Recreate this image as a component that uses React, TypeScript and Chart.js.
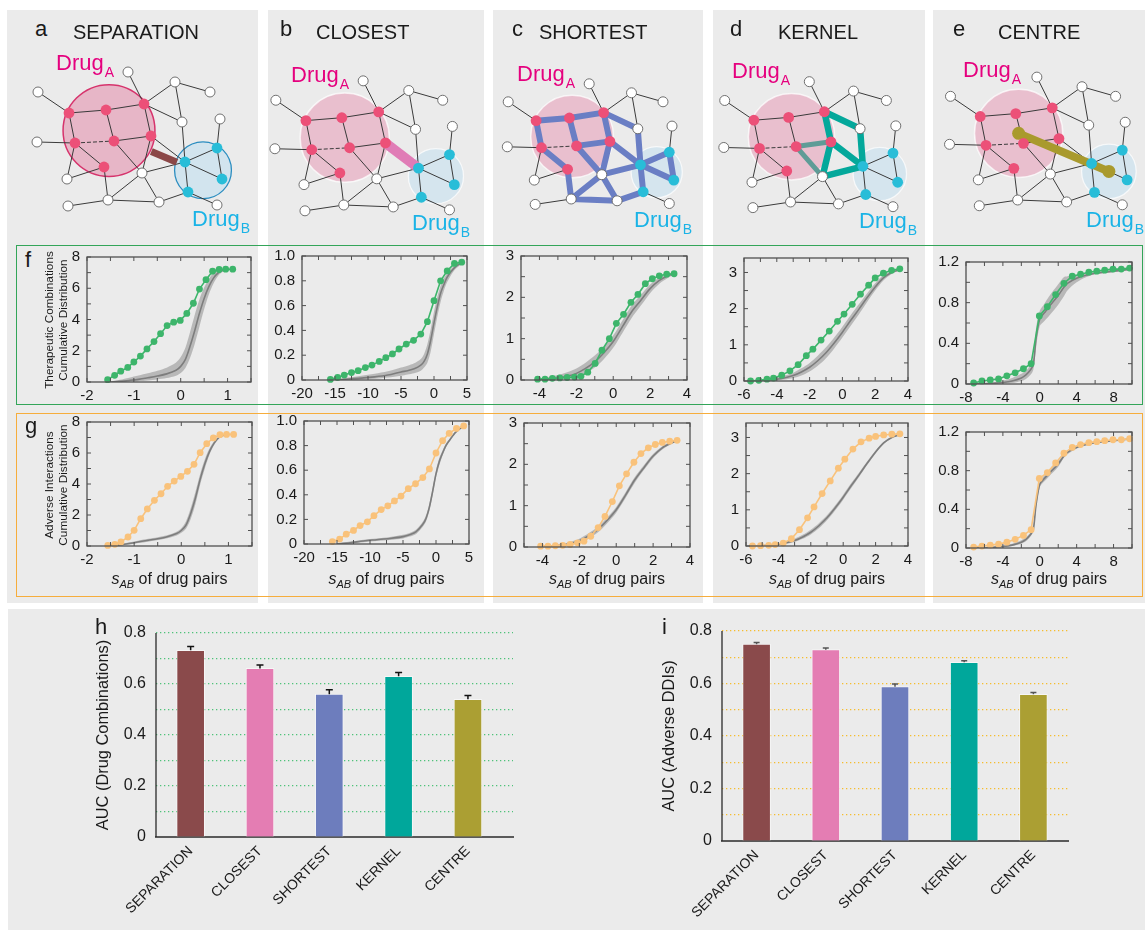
import React, { useEffect, useRef } from 'react';
import { Chart, registerables } from 'chart.js';

Chart.register(...registerables);

const FONT = '"Liberation Sans", Arial, Helvetica, sans-serif';
const GRAY = '#ebebeb';

// ---------------- categories ----------------
const METHODS = ['SEPARATION', 'CLOSEST', 'SHORTEST', 'KERNEL', 'CENTRE'];
const PANEL_LETTERS = ['a', 'b', 'c', 'd', 'e'];

// ---------------- toy interactome (shared by panels a-e) ----------------
const NODE_X = [38, 128, 175, 210, 182, 220, 37, 142, 67, 68, 108, 159, 217, 69, 106, 144, 75, 114, 151, 104, 185, 217, 222, 188];
const NODE_Y = [92, 72, 82, 92, 122, 119, 142, 173, 179, 206, 200, 202, 205, 113, 110, 104, 143, 141, 136, 167, 162, 148, 179, 192];
const NODE_GROUP = ['o', 'o', 'o', 'o', 'o', 'o', 'o', 'o', 'o', 'o', 'o', 'o', 'o', 'A', 'A', 'A', 'A', 'A', 'A', 'A', 'B', 'B', 'B', 'B'];
const EDGES = [[0, 13], [13, 14], [14, 15], [13, 16], [14, 17], [15, 18], [17, 18], [16, 19], [6, 16], [16, 8], [19, 8], [19, 10], [17, 7], [18, 7], [15, 1], [15, 2], [2, 3], [2, 4], [15, 4], [4, 20], [18, 20], [7, 20], [7, 10], [7, 11], [10, 11], [9, 10], [11, 23], [20, 21], [20, 22], [21, 22], [20, 23], [21, 5], [23, 12]];
const DASHED_EDGES = [[16, 17]];
const CLOSEST_PATH = [[18, 20]];
const SHORTEST_PATHS = [[13, 14], [14, 15], [13, 16], [14, 17], [15, 18], [17, 18], [16, 19], [19, 10], [17, 7], [18, 7], [15, 4], [4, 20], [18, 20], [7, 20], [7, 10], [7, 11], [10, 11], [11, 23], [20, 21], [20, 22], [21, 22], [20, 23]];
const KERNEL_PATHS = [[15, 4], [4, 20], [15, 18], [18, 7], [18, 20], [7, 20]];
const KERNEL_WEAK_PATHS = [[17, 18], [17, 7]];

// ---------------- cumulative distributions (rows f and g) ----------------
const SEPARATION_X = [-1.56, -1.41, -1.28, -1.13, -1.0, -0.86, -0.72, -0.57, -0.43, -0.29, -0.15, -0.01, 0.13, 0.27, 0.4, 0.54, 0.68, 0.82, 0.96, 1.11];
const SEPARATION_COMB = [0.15, 0.43, 0.69, 0.93, 1.28, 1.66, 2.12, 2.59, 3.09, 3.61, 3.83, 3.94, 4.39, 5.04, 5.95, 6.55, 7.09, 7.2, 7.22, 7.22];
const SEPARATION_ADV = [0.04, 0.11, 0.26, 0.58, 1.01, 1.76, 2.39, 2.95, 3.37, 3.85, 4.19, 4.49, 4.82, 5.27, 6.02, 6.6, 6.97, 7.18, 7.2, 7.2];

const CLOSEST_X = [-15.7, -14.6, -13.6, -12.5, -11.5, -10.4, -9.4, -8.3, -7.3, -6.3, -5.3, -4.2, -3.1, -2.0, -1.0, 0.0, 1.0, 2.0, 3.1, 4.2];
const CLOSEST_COMB = [0.005, 0.02, 0.04, 0.06, 0.075, 0.1, 0.12, 0.15, 0.18, 0.21, 0.25, 0.29, 0.32, 0.37, 0.47, 0.64, 0.8, 0.88, 0.94, 0.95];
const CLOSEST_ADV = [0.02, 0.04, 0.08, 0.11, 0.15, 0.18, 0.23, 0.28, 0.31, 0.35, 0.39, 0.45, 0.49, 0.54, 0.61, 0.74, 0.84, 0.9, 0.94, 0.96];

const SHORTEST_X = [-4.1, -3.7, -3.3, -2.9, -2.5, -2.1, -1.75, -1.38, -0.98, -0.61, -0.21, 0.17, 0.56, 0.96, 1.34, 1.74, 2.12, 2.5, 2.9, 3.3];
const SHORTEST_COMB = [0.02, 0.02, 0.04, 0.05, 0.06, 0.07, 0.09, 0.19, 0.4, 0.72, 1.0, 1.37, 1.59, 1.88, 2.07, 2.33, 2.45, 2.52, 2.56, 2.57];
const SHORTEST_ADV = [0.02, 0.02, 0.03, 0.04, 0.06, 0.1, 0.14, 0.26, 0.47, 0.74, 1.1, 1.48, 1.77, 2.05, 2.26, 2.4, 2.48, 2.53, 2.56, 2.58];

const KERNEL_X = [-5.6, -5.1, -4.6, -4.2, -3.7, -3.2, -2.7, -2.2, -1.8, -1.3, -0.8, -0.3, 0.1, 0.6, 1.1, 1.6, 2.0, 2.5, 3.0, 3.5];
const KERNEL_COMB = [0, 0.02, 0.05, 0.08, 0.16, 0.28, 0.45, 0.7, 0.88, 1.13, 1.38, 1.65, 1.85, 2.12, 2.4, 2.65, 2.85, 2.98, 3.06, 3.1];
const KERNEL_ADV = [0, 0.01, 0.02, 0.04, 0.08, 0.2, 0.45, 0.78, 1.08, 1.45, 1.8, 2.15, 2.4, 2.68, 2.88, 2.98, 3.03, 3.07, 3.09, 3.1];

const CENTRE_X = [-7.17, -6.27, -5.37, -4.47, -3.57, -2.67, -1.77, -0.94, -0.05, 0.82, 1.72, 2.62, 3.52, 4.42, 5.32, 6.18, 7.04, 7.94, 8.84, 9.74];
const CENTRE_COMB = [0.01, 0.03, 0.04, 0.05, 0.08, 0.11, 0.15, 0.2, 0.67, 0.76, 0.88, 0.99, 1.06, 1.08, 1.1, 1.11, 1.12, 1.13, 1.13, 1.14];
const CENTRE_ADV = [0.01, 0.02, 0.03, 0.04, 0.06, 0.09, 0.13, 0.19, 0.72, 0.78, 0.88, 0.98, 1.04, 1.07, 1.09, 1.1, 1.11, 1.12, 1.12, 1.13];

// random-expectation (null model) curves: mean and band
const SEPARATION_NULL_X = [-1.5, -1.3, -1.1, -0.9, -0.7, -0.5, -0.3, -0.1, 0, 0.1, 0.2, 0.3, 0.4, 0.5, 0.6, 0.7, 0.8, 0.9, 1.0];
const SEPARATION_COMB_NULL = [0, 0.04, 0.1, 0.17, 0.27, 0.38, 0.52, 0.75, 1.0, 1.45, 2.3, 3.3, 4.4, 5.35, 6.1, 6.65, 6.98, 7.15, 7.22];
const SEPARATION_COMB_HI = [0.03, 0.14, 0.28, 0.42, 0.56, 0.72, 0.92, 1.25, 1.6, 2.2, 3.2, 4.3, 5.3, 6.05, 6.6, 6.98, 7.15, 7.22, 7.22];
const SEPARATION_COMB_LO = [0, 0, 0.02, 0.05, 0.1, 0.16, 0.25, 0.4, 0.58, 0.9, 1.55, 2.45, 3.55, 4.65, 5.6, 6.3, 6.8, 7.07, 7.2];
const SEPARATION_ADV_NULL = [0, 0.06, 0.16, 0.27, 0.37, 0.47, 0.6, 0.8, 1.0, 1.35, 2.1, 3.1, 4.3, 5.3, 6.1, 6.65, 7.0, 7.15, 7.2];
const SEPARATION_ADV_HI = [0.03, 0.12, 0.24, 0.36, 0.47, 0.57, 0.7, 0.92, 1.15, 1.6, 2.45, 3.5, 4.65, 5.6, 6.3, 6.77, 7.06, 7.18, 7.21];
const SEPARATION_ADV_LO = [0, 0.02, 0.09, 0.19, 0.28, 0.38, 0.5, 0.68, 0.86, 1.12, 1.75, 2.7, 3.95, 5.0, 5.9, 6.53, 6.94, 7.12, 7.19];

const CLOSEST_NULL_X = [-15, -13, -11, -9, -7, -5, -4, -3, -2, -1.5, -1, -0.5, 0, 0.5, 1, 1.5, 2, 3, 4, 4.5];
const CLOSEST_COMB_NULL = [0, 0.008, 0.015, 0.025, 0.04, 0.065, 0.075, 0.09, 0.12, 0.15, 0.21, 0.32, 0.46, 0.59, 0.7, 0.77, 0.83, 0.9, 0.94, 0.95];
const CLOSEST_COMB_HI = [0.005, 0.02, 0.035, 0.05, 0.07, 0.1, 0.115, 0.135, 0.17, 0.21, 0.29, 0.41, 0.55, 0.67, 0.76, 0.82, 0.86, 0.92, 0.95, 0.96];
const CLOSEST_COMB_LO = [0, 0.002, 0.005, 0.01, 0.02, 0.035, 0.045, 0.055, 0.075, 0.1, 0.14, 0.23, 0.37, 0.51, 0.63, 0.72, 0.79, 0.88, 0.93, 0.95];
const CLOSEST_ADV_NULL = [0, 0.01, 0.025, 0.035, 0.045, 0.06, 0.075, 0.1, 0.16, 0.21, 0.3, 0.43, 0.57, 0.67, 0.74, 0.8, 0.84, 0.91, 0.95, 0.96];
const CLOSEST_ADV_HI = [0.005, 0.02, 0.035, 0.045, 0.057, 0.075, 0.09, 0.118, 0.18, 0.235, 0.33, 0.46, 0.6, 0.7, 0.76, 0.815, 0.85, 0.915, 0.953, 0.962];
const CLOSEST_ADV_LO = [0, 0.003, 0.015, 0.025, 0.033, 0.045, 0.06, 0.082, 0.14, 0.185, 0.27, 0.4, 0.54, 0.64, 0.72, 0.785, 0.83, 0.905, 0.947, 0.958];

const SHORTEST_NULL_X = [-4, -3.5, -3, -2.5, -2, -1.5, -1, -0.5, 0, 0.5, 1, 1.5, 2, 2.5, 3, 3.3];
const SHORTEST_COMB_NULL = [0.01, 0.03, 0.05, 0.09, 0.16, 0.28, 0.44, 0.66, 0.93, 1.29, 1.65, 1.93, 2.21, 2.41, 2.53, 2.57];
const SHORTEST_COMB_HI = [0.03, 0.07, 0.12, 0.19, 0.28, 0.42, 0.59, 0.81, 1.08, 1.44, 1.8, 2.06, 2.31, 2.48, 2.57, 2.59];
const SHORTEST_COMB_LO = [0, 0.005, 0.01, 0.03, 0.07, 0.16, 0.3, 0.51, 0.78, 1.14, 1.5, 1.8, 2.1, 2.33, 2.48, 2.55];
const SHORTEST_ADV_NULL = [0.01, 0.02, 0.04, 0.08, 0.15, 0.27, 0.42, 0.64, 0.9, 1.25, 1.62, 1.92, 2.2, 2.4, 2.52, 2.57];
const SHORTEST_ADV_HI = [0.02, 0.04, 0.07, 0.12, 0.2, 0.33, 0.49, 0.71, 0.97, 1.32, 1.69, 1.98, 2.25, 2.44, 2.55, 2.58];
const SHORTEST_ADV_LO = [0, 0.01, 0.02, 0.05, 0.1, 0.21, 0.35, 0.57, 0.83, 1.18, 1.55, 1.86, 2.15, 2.36, 2.49, 2.56];

const KERNEL_NULL_X = [-5.5, -5, -4.5, -4, -3.5, -3, -2.5, -2, -1.5, -1, -0.5, 0, 0.5, 1, 1.5, 2, 2.5, 3, 3.5];
const KERNEL_COMB_NULL = [0, 0.01, 0.02, 0.05, 0.09, 0.15, 0.25, 0.38, 0.56, 0.78, 1.05, 1.35, 1.67, 1.98, 2.3, 2.6, 2.85, 3.0, 3.08];
const KERNEL_COMB_HI = [0.01, 0.03, 0.05, 0.09, 0.15, 0.23, 0.35, 0.5, 0.7, 0.93, 1.2, 1.5, 1.82, 2.12, 2.42, 2.7, 2.92, 3.04, 3.1];
const KERNEL_COMB_LO = [0, 0, 0.005, 0.02, 0.04, 0.08, 0.15, 0.26, 0.42, 0.63, 0.9, 1.2, 1.52, 1.84, 2.18, 2.5, 2.78, 2.96, 3.06];
const KERNEL_ADV_NULL = [0, 0.01, 0.02, 0.05, 0.09, 0.15, 0.25, 0.38, 0.56, 0.78, 1.05, 1.35, 1.67, 1.98, 2.3, 2.6, 2.85, 3.0, 3.08];
const KERNEL_ADV_HI = [0.01, 0.02, 0.04, 0.08, 0.13, 0.2, 0.31, 0.45, 0.63, 0.85, 1.12, 1.42, 1.74, 2.04, 2.35, 2.64, 2.88, 3.02, 3.09];
const KERNEL_ADV_LO = [0, 0, 0.01, 0.03, 0.06, 0.11, 0.2, 0.32, 0.49, 0.71, 0.98, 1.28, 1.6, 1.92, 2.25, 2.56, 2.82, 2.98, 3.07];

const CENTRE_NULL_X = [-7.5, -6, -5, -4, -3, -2, -1.5, -1, -0.7, -0.4, 0, 0.5, 1, 2, 2.6, 3, 4, 5, 6, 7, 8, 9, 10];
const CENTRE_COMB_NULL = [0, 0.003, 0.008, 0.015, 0.03, 0.06, 0.09, 0.14, 0.19, 0.45, 0.64, 0.7, 0.76, 0.87, 0.95, 0.99, 1.04, 1.07, 1.09, 1.1, 1.11, 1.12, 1.13];
const CENTRE_COMB_HI = [0.005, 0.01, 0.02, 0.035, 0.06, 0.1, 0.13, 0.19, 0.25, 0.55, 0.72, 0.79, 0.86, 0.98, 1.05, 1.06, 1.07, 1.085, 1.1, 1.11, 1.12, 1.125, 1.135];
const CENTRE_COMB_LO = [0, 0, 0, 0.005, 0.01, 0.03, 0.05, 0.09, 0.14, 0.36, 0.57, 0.62, 0.67, 0.78, 0.86, 0.92, 1.0, 1.05, 1.08, 1.09, 1.1, 1.115, 1.125];
const CENTRE_ADV_NULL = [0, 0.003, 0.008, 0.015, 0.03, 0.06, 0.09, 0.14, 0.19, 0.45, 0.66, 0.72, 0.77, 0.87, 0.95, 0.99, 1.04, 1.07, 1.09, 1.1, 1.11, 1.12, 1.13];
const CENTRE_ADV_HI = [0.004, 0.008, 0.015, 0.025, 0.045, 0.08, 0.11, 0.16, 0.21, 0.49, 0.69, 0.75, 0.8, 0.9, 0.97, 1.01, 1.05, 1.08, 1.1, 1.105, 1.115, 1.125, 1.135];
const CENTRE_ADV_LO = [0, 0, 0.003, 0.008, 0.02, 0.045, 0.07, 0.12, 0.17, 0.41, 0.63, 0.69, 0.74, 0.84, 0.93, 0.97, 1.03, 1.06, 1.08, 1.095, 1.105, 1.115, 1.125];

// axis ranges and tick labels of the cumulative plots
const X_MIN = [-2, -20, -5, -6, -8];
const X_MAX = [1.5, 5, 4, 4, 10];
const Y_MAX = [8, 1.0, 3, 3.4, 1.2];
const X_TICKS = [[-2, -1, 0, 1], [-20, -15, -10, -5, 0, 5], [-4, -2, 0, 2, 4], [-6, -4, -2, 0, 2, 4], [-8, -4, 0, 4, 8]];
const Y_TICKS = [[0, 2, 4, 6, 8], [0, 0.2, 0.4, 0.6, 0.8, 1.0], [0, 1, 2, 3], [0, 1, 2, 3], [0, 0.4, 0.8, 1.2]];
const Y_TICK_TEXT = [['0', '2', '4', '6', '8'], ['0', '0.2', '0.4', '0.6', '0.8', '1.0'], ['0', '1', '2', '3'], ['0', '1', '2', '3'], ['0', '0.4', '0.8', '1.2']];
const X_MINOR = [0.5, 2.5, 1, 1, 2];
const Y_MINOR = [1, 0.2, 0.5, 0.5, 0.2];

// ---------------- AUC bars (h and i) ----------------
const AUC_COMB = [0.732, 0.661, 0.56, 0.63, 0.54];
const AUC_COMB_ERR = [0.015, 0.014, 0.017, 0.015, 0.015];
const AUC_ADV = [0.75, 0.729, 0.588, 0.681, 0.559];
const AUC_ADV_ERR = [0.006, 0.006, 0.01, 0.006, 0.007];
const AUC_TICKS = [0, 0.1, 0.2, 0.3, 0.4, 0.5, 0.6, 0.7, 0.8];
const AUC_TICK_TEXT = ['0', '', '0.2', '', '0.4', '', '0.6', '', '0.8'];

// ---------------- bundles ----------------
const SERIES_X = [SEPARATION_X, CLOSEST_X, SHORTEST_X, KERNEL_X, CENTRE_X];
const SERIES_Y = [
  [SEPARATION_COMB, CLOSEST_COMB, SHORTEST_COMB, KERNEL_COMB, CENTRE_COMB],
  [SEPARATION_ADV, CLOSEST_ADV, SHORTEST_ADV, KERNEL_ADV, CENTRE_ADV],
];
const NULL_X = [SEPARATION_NULL_X, CLOSEST_NULL_X, SHORTEST_NULL_X, KERNEL_NULL_X, CENTRE_NULL_X];
const NULL_MEAN = [
  [SEPARATION_COMB_NULL, CLOSEST_COMB_NULL, SHORTEST_COMB_NULL, KERNEL_COMB_NULL, CENTRE_COMB_NULL],
  [SEPARATION_ADV_NULL, CLOSEST_ADV_NULL, SHORTEST_ADV_NULL, KERNEL_ADV_NULL, CENTRE_ADV_NULL],
];
const NULL_HI = [
  [SEPARATION_COMB_HI, CLOSEST_COMB_HI, SHORTEST_COMB_HI, KERNEL_COMB_HI, CENTRE_COMB_HI],
  [SEPARATION_ADV_HI, CLOSEST_ADV_HI, SHORTEST_ADV_HI, KERNEL_ADV_HI, CENTRE_ADV_HI],
];
const NULL_LO = [
  [SEPARATION_COMB_LO, CLOSEST_COMB_LO, SHORTEST_COMB_LO, KERNEL_COMB_LO, CENTRE_COMB_LO],
  [SEPARATION_ADV_LO, CLOSEST_ADV_LO, SHORTEST_ADV_LO, KERNEL_ADV_LO, CENTRE_ADV_LO],
];

// ---------------- layout (page pixels) ----------------
const COLS = [[7, 258], [268, 484], [493, 703], [713, 925], [933, 1145]];
const PLOT_RECTS = [
  [[87, 257, 251, 382], [302, 256, 467, 380], [521, 256, 687, 380], [744, 258, 908, 381], [966, 262, 1132, 384]],
  [[87, 422, 252, 546], [304, 421, 469, 544], [524, 423, 690, 547], [746, 423, 908, 546], [966, 432, 1132, 548]],
];
const NET_TRANSFORMS = [[1, 0, 0], [0.97, 239, 11], [0.9, 474, 19], [0.94, 689, 14], [0.96, 914, 8]];
const TITLE_POS = [[35, 73], [280, 316], [512, 539], [730, 778], [953, 998]];
const DRUG_A_POS = [[56, 71], [291, 83], [517, 82], [732, 79], [963, 78]];
const DRUG_B_POS = [[192, 227], [412, 231], [634, 228], [859, 229], [1086, 228]];
const BAR_COLORS = ['#8a4a4b', '#e47db3', '#6d7dbd', '#00a79b', '#ab9f33'];

const SERIES_COLORS = ['#3db56b', '#f9c27b'];

// ---------------- helpers ----------------
type Pt = { x: number | null; y: number | null };

function segData(pairs: number[][]): Pt[] {
  const out: Pt[] = [];
  pairs.forEach(([p, q]) => {
    out.push({ x: NODE_X[p], y: NODE_Y[p] }, { x: NODE_X[q], y: NODE_Y[q] }, { x: null, y: null });
  });
  return out;
}

function ChartCanvas({ rect, make }: { rect: number[]; make: () => any }) {
  const ref = useRef<HTMLCanvasElement | null>(null);
  useEffect(() => {
    if (!ref.current) return;
    const chart = new Chart(ref.current, make());
    return () => chart.destroy();
  }, []);
  const [l, t, w, h] = rect;
  return (
    <canvas
      ref={ref}
      width={w}
      height={h}
      style={{ position: 'absolute', left: l, top: t, width: w, height: h }}
    />
  );
}

function networkRect(k: number) {
  const [s, tx, ty] = NET_TRANSFORMS[k];
  return [Math.round(tx + 15 * s), Math.round(ty + 50 * s), Math.round(240 * s), Math.round(185 * s)];
}

function networkConfig(k: number) {
  const [s, tx, ty] = NET_TRANSFORMS[k];
  const [cl, ct, cw, ch] = networkRect(k);
  const method = METHODS[k];
  const ids = (g: string) => NODE_GROUP.map((v, i) => (v === g ? i : -1)).filter((i) => i >= 0);
  const idxA = ids('A');
  const idxB = ids('B');
  const idxO = ids('o');
  const avg = (a: number[]) => a.reduce((p, c) => p + c, 0) / a.length;
  const centroid = (list: number[]) => ({ x: avg(list.map((i) => NODE_X[i])), y: avg(list.map((i) => NODE_Y[i])) });
  const spread = (list: number[], c: { x: number; y: number }) =>
    Math.max(...list.map((i) => Math.hypot(NODE_X[i] - c.x, NODE_Y[i] - c.y))) + 2;
  const cA = centroid(idxA);
  const cB = centroid(idxB);
  const rA = spread(idxA, cA);
  const rB = spread(idxB, cB);
  const nodes = (list: number[]) => list.map((i) => ({ x: NODE_X[i], y: NODE_Y[i] }));
  const line = (data: Pt[], color: string, width: number, order: number, extra: any = {}) => ({
    data,
    showLine: true,
    borderColor: color,
    borderWidth: width,
    pointRadius: 0,
    borderCapStyle: 'round',
    borderJoinStyle: 'round',
    fill: false,
    order,
    clip: false,
    ...extra,
  });
  const dots = (data: Pt[], fillC: string, strokeC: string, strokeW: number, radius: number, order: number) => ({
    data,
    showLine: false,
    pointRadius: radius,
    pointHoverRadius: radius,
    pointBackgroundColor: fillC,
    pointBorderColor: strokeC,
    pointBorderWidth: strokeW,
    backgroundColor: fillC,
    borderColor: strokeC,
    order,
    clip: false,
  });
  const first = k === 0;
  const ds: any[] = [
    dots([cA], first ? '#e7b6c7' : '#e9bfce', first ? '#d6336c' : 'rgba(255,255,255,0.7)', 1.5, rA * s, 20),
    dots([cB], first ? '#d2e4ee' : '#d5e5ee', first ? '#2b8dc0' : 'rgba(255,255,255,0.7)', 1.3, rB * s, 20),
    line(segData(EDGES), '#3a3a3a', 1, 15, { borderCapStyle: 'butt' }),
    line(segData(DASHED_EDGES), '#3a3a3a', 1, 15, { borderDash: [4, 2], borderCapStyle: 'butt' }),
  ];
  if (method === 'SEPARATION') {
    const d = Math.hypot(cB.x - cA.x, cB.y - cA.y);
    const ux = (cB.x - cA.x) / d;
    const uy = (cB.y - cA.y) / d;
    ds.push(
      line(
        [
          { x: cA.x + ux * rA, y: cA.y + uy * rA + 3 },
          { x: cB.x - ux * rB, y: cB.y - uy * rB + 3 },
        ],
        '#8b4747',
        7,
        10,
        { borderCapStyle: 'butt' }
      )
    );
  } else if (method === 'CLOSEST') {
    ds.push(line(segData(CLOSEST_PATH), '#e07cb6', 10, 10));
  } else if (method === 'SHORTEST') {
    ds.push(line(segData(SHORTEST_PATHS), '#6a7ec4', 6, 10));
  } else if (method === 'KERNEL') {
    ds.push(line(segData(KERNEL_WEAK_PATHS), '#5f9c97', 5, 11));
    ds.push(line(segData(KERNEL_PATHS), '#04a89b', 6.5, 10));
  } else if (method === 'CENTRE') {
    ds.push({
      ...line([cA, cB], '#a99a2d', 8, 10),
      pointRadius: 6.5,
      pointBackgroundColor: '#a99a2d',
      pointBorderWidth: 0,
    });
  }
  ds.push(dots(nodes(idxO), '#ffffff', '#6f6f6f', 1, 5, 2));
  ds.push(dots(nodes(idxA), '#ec5078', '#ec5078', 0, 5.4, 2));
  ds.push(dots(nodes(idxB), '#28bdd8', '#28bdd8', 0, 5.4, 2));
  return {
    type: 'line',
    data: { datasets: ds },
    options: {
      responsive: false,
      animation: false,
      events: [],
      layout: { padding: 0, autoPadding: false },
      plugins: { legend: { display: false }, tooltip: { enabled: false } },
      scales: {
        x: { type: 'linear', display: false, min: (cl - tx) / s, max: (cl + cw - tx) / s },
        y: { type: 'linear', display: false, reverse: true, min: (ct - ty) / s, max: (ct + ch - ty) / s },
      },
    },
  };
}

function makeBoxPlugin(xStep: number, yStep: number) {
  return {
    id: 'boxFrame',
    afterDatasetsDraw(chart: any) {
      const { ctx, chartArea: a } = chart;
      const xs = chart.scales.x;
      const ys = chart.scales.y;
      ctx.save();
      ctx.strokeStyle = '#505050';
      ctx.lineWidth = 1.3;
      ctx.strokeRect(a.left, a.top, a.right - a.left, a.bottom - a.top);
      ctx.lineWidth = 1;
      ctx.beginPath();
      const L = 4;
      for (let i = Math.ceil(xs.min / xStep - 1e-9); i * xStep <= xs.max + 1e-9; i++) {
        const p = xs.getPixelForValue(i * xStep);
        ctx.moveTo(p, a.bottom);
        ctx.lineTo(p, a.bottom - L);
        ctx.moveTo(p, a.top);
        ctx.lineTo(p, a.top + L);
      }
      for (let i = Math.ceil(ys.min / yStep - 1e-9); i * yStep <= ys.max + 1e-9; i++) {
        const p = ys.getPixelForValue(i * yStep);
        ctx.moveTo(a.left, p);
        ctx.lineTo(a.left + L, p);
        ctx.moveTo(a.right, p);
        ctx.lineTo(a.right - L, p);
      }
      ctx.stroke();
      ctx.restore();
    },
  };
}

const CDF_YW = 34;
const CDF_PT = 18;
const CDF_PR = 12;
const CDF_XH = 24;

function cdfRect(row: number, k: number) {
  const [pl, pt, pr, pb] = PLOT_RECTS[row][k];
  return [pl - CDF_YW, pt - CDF_PT, pr - pl + CDF_YW + CDF_PR, pb - pt + CDF_PT + CDF_XH];
}

function cdfConfig(row: number, k: number) {
  const color = SERIES_COLORS[row];
  const xy = (xs: number[], ys: number[]) => xs.map((x, i) => ({ x, y: ys[i] }));
  const nx = NULL_X[k];
  const tickFont = { family: FONT, size: 15 };
  return {
    type: 'line',
    data: {
      datasets: [
        {
          data: xy(nx, NULL_HI[row][k]),
          fill: '+1',
          backgroundColor: 'rgba(115,115,115,0.42)',
          borderColor: 'transparent',
          borderWidth: 0,
          pointRadius: 0,
          tension: 0.3,
          order: 6,
        },
        {
          data: xy(nx, NULL_LO[row][k]),
          fill: false,
          borderColor: 'transparent',
          borderWidth: 0,
          pointRadius: 0,
          tension: 0.3,
          order: 5,
        },
        {
          data: xy(nx, NULL_MEAN[row][k]),
          fill: false,
          borderColor: '#7d7d7d',
          borderWidth: 1.6,
          pointRadius: 0,
          tension: 0.3,
          order: 4,
        },
        {
          data: xy(SERIES_X[k], SERIES_Y[row][k]),
          fill: false,
          borderColor: color,
          borderWidth: 1.6,
          pointRadius: 3.4,
          pointBackgroundColor: color,
          pointBorderWidth: 0,
          order: 1,
          clip: false,
        },
      ],
    },
    plugins: [makeBoxPlugin(X_MINOR[k], Y_MINOR[k])],
    options: {
      responsive: false,
      animation: false,
      events: [],
      layout: { padding: { top: CDF_PT, right: CDF_PR, left: 0, bottom: 0 }, autoPadding: false },
      plugins: { legend: { display: false }, tooltip: { enabled: false } },
      scales: {
        x: {
          type: 'linear',
          min: X_MIN[k],
          max: X_MAX[k],
          grid: { display: false, drawTicks: false },
          border: { display: false },
          afterBuildTicks: (s: any) => {
            s.ticks = X_TICKS[k].map((v) => ({ value: v }));
          },
          afterFit: (s: any) => {
            s.height = CDF_XH;
          },
          ticks: { font: tickFont, color: '#1a1a1a', padding: 5, maxRotation: 0, autoSkip: false, callback: (v: any) => String(v) },
        },
        y: {
          type: 'linear',
          min: 0,
          max: Y_MAX[k],
          grid: { display: false, drawTicks: false },
          border: { display: false },
          afterBuildTicks: (s: any) => {
            s.ticks = Y_TICKS[k].map((v) => ({ value: v }));
          },
          afterFit: (s: any) => {
            s.width = CDF_YW;
          },
          ticks: { font: tickFont, color: '#1a1a1a', padding: 7, autoSkip: false, callback: (_v: any, i: number) => Y_TICK_TEXT[k][i] },
        },
      },
    },
  };
}

function makeErrorPlugin(values: number[], errs: number[], color: string, cap: number, width: number) {
  return {
    id: 'errBars',
    afterDatasetsDraw(chart: any) {
      const { ctx, chartArea: a } = chart;
      const meta = chart.getDatasetMeta(0);
      const ys = chart.scales.y;
      ctx.save();
      // left axis line
      ctx.strokeStyle = '#2a2a2a';
      ctx.lineWidth = 1.3;
      ctx.beginPath();
      ctx.moveTo(a.left, a.top);
      ctx.lineTo(a.left, a.bottom);
      ctx.stroke();
      ctx.strokeStyle = color;
      ctx.lineWidth = width;
      ctx.beginPath();
      meta.data.forEach((bar: any, i: number) => {
        const x = bar.x;
        const y0 = ys.getPixelForValue(values[i]);
        const y1 = ys.getPixelForValue(values[i] + errs[i]);
        ctx.moveTo(x, y0);
        ctx.lineTo(x, y1);
        ctx.moveTo(x - cap, y1);
        ctx.lineTo(x + cap, y1);
      });
      ctx.stroke();
      ctx.restore();
    },
  };
}

const BAR_YW = 56;
const BAR_PT = 22;
const BAR_PR = 4;
const BAR_XH = 86;
const BAR_RECTS = [[156, 633, 513, 837], [722, 631, 1068, 841]];
const BAR_XMAX = [4.65, 4.5];

function barRect(j: number) {
  const [pl, pt, pr, pb] = BAR_RECTS[j];
  return [pl - BAR_YW, pt - BAR_PT, pr - pl + BAR_YW + BAR_PR, pb - pt + BAR_PT + BAR_XH];
}

function barConfig(j: number) {
  const values = j === 0 ? AUC_COMB : AUC_ADV;
  const errs = j === 0 ? AUC_COMB_ERR : AUC_ADV_ERR;
  const gridColor = j === 0 ? '#4fc27a' : '#f5bd2e';
  return {
    type: 'bar',
    data: {
      datasets: [
        {
          data: values.map((v, i) => ({ x: i, y: v })),
          backgroundColor: BAR_COLORS,
          borderColor: 'rgba(255,255,255,0.55)',
          borderWidth: 1,
          barThickness: 28,
        },
      ],
    },
    plugins: [makeErrorPlugin(values, errs, j === 0 ? '#111111' : '#555555', j === 0 ? 3.5 : 3, 1.5)],
    options: {
      responsive: false,
      animation: false,
      events: [],
      layout: { padding: { top: BAR_PT, right: BAR_PR, left: 0, bottom: 0 }, autoPadding: false },
      plugins: { legend: { display: false }, tooltip: { enabled: false } },
      scales: {
        x: {
          type: 'linear',
          min: -0.5,
          max: BAR_XMAX[j],
          offset: false,
          grid: { display: false, drawTicks: false },
          border: { display: true, color: '#5a5a5a', width: 2 },
          afterBuildTicks: (s: any) => {
            s.ticks = METHODS.map((_m, i) => ({ value: i }));
          },
          afterFit: (s: any) => {
            s.height = BAR_XH;
          },
          ticks: {
            autoSkip: false,
            minRotation: 45,
            maxRotation: 45,
            padding: 6,
            font: { family: FONT, size: 14 },
            color: '#1a1a1a',
            callback: (v: any) => METHODS[v] ?? '',
          },
        },
        y: {
          min: 0,
          max: 0.8,
          afterBuildTicks: (s: any) => {
            s.ticks = AUC_TICKS.map((v) => ({ value: v }));
          },
          afterFit: (s: any) => {
            s.width = BAR_YW;
          },
          grid: {
            drawTicks: false,
            lineWidth: 1.2,
            color: (c: any) => (c.tick && c.tick.value === 0 ? 'rgba(0,0,0,0)' : gridColor),
          },
          border: { display: false, dash: [1.3, 2.7] },
          ticks: {
            padding: 10,
            autoSkip: false,
            font: { family: FONT, size: 16 },
            color: '#1a1a1a',
            callback: (_v: any, i: number) => AUC_TICK_TEXT[i],
          },
        },
      },
    },
  };
}

// ---------------- text helpers ----------------
function Txt({ x, baseline, size, color = '#1a1a1a', children, style = {} }: any) {
  return (
    <div
      style={{
        position: 'absolute',
        left: x,
        top: baseline - 0.8465 * size,
        fontSize: size,
        lineHeight: size + 'px',
        fontFamily: FONT,
        color,
        whiteSpace: 'nowrap',
        ...style,
      }}
    >
      {children}
    </div>
  );
}

function VText({ cx, cy, w, size, lh, lines }: { cx: number; cy: number; w: number; size: number; lh: number; lines: string[] }) {
  const h = lh * lines.length;
  return (
    <div
      style={{
        position: 'absolute',
        left: cx - w / 2,
        top: cy - h / 2,
        width: w,
        height: h,
        transform: 'rotate(-90deg)',
        textAlign: 'center',
        fontSize: size,
        lineHeight: lh + 'px',
        fontFamily: FONT,
        color: '#1a1a1a',
        whiteSpace: 'nowrap',
      }}
    >
      {lines.map((t, i) => (
        <div key={i}>{t}</div>
      ))}
    </div>
  );
}

function Drug({ x, baseline, sub, color }: { x: number; baseline: number; sub: string; color: string }) {
  return (
    <Txt x={x} baseline={baseline} size={22} color={color}>
      Drug
      <span style={{ fontSize: 14, position: 'relative', top: 7, marginLeft: 1 }}>{sub}</span>
    </Txt>
  );
}

export default function App() {
  return (
    <div
      style={{
        position: 'absolute',
        left: 0,
        top: 0,
        width: 1145,
        height: 930,
        overflow: 'hidden',
        background: '#ffffff',
        fontFamily: FONT,
      }}
    >
      {COLS.map(([l, r], i) => (
        <div key={'col' + i} style={{ position: 'absolute', left: l, top: 10, width: r - l, height: 593, background: GRAY }} />
      ))}
      <div style={{ position: 'absolute', left: 8, top: 609, width: 1137, height: 321, background: GRAY }} />
      <div
        style={{
          position: 'absolute',
          left: 16,
          top: 245,
          width: 1127,
          height: 160,
          border: '1.5px solid #33a559',
          boxSizing: 'border-box',
        }}
      />
      <div
        style={{
          position: 'absolute',
          left: 16,
          top: 413,
          width: 1127,
          height: 184,
          border: '1.5px solid #f6ad3c',
          boxSizing: 'border-box',
        }}
      />

      {METHODS.map((_m, k) => (
        <ChartCanvas key={'net' + k} rect={networkRect(k)} make={() => networkConfig(k)} />
      ))}
      {[0, 1].map((row) =>
        METHODS.map((_m, k) => (
          <ChartCanvas key={'cdf' + row + k} rect={cdfRect(row, k)} make={() => cdfConfig(row, k)} />
        ))
      )}
      {[0, 1].map((j) => (
        <ChartCanvas key={'bar' + j} rect={barRect(j)} make={() => barConfig(j)} />
      ))}

      {METHODS.map((m, k) => (
        <React.Fragment key={'title' + k}>
          <Txt x={TITLE_POS[k][0]} baseline={36.5} size={22}>
            {PANEL_LETTERS[k]}
          </Txt>
          <Txt x={TITLE_POS[k][1]} baseline={38.5} size={20}>
            {m}
          </Txt>
          <Drug x={DRUG_A_POS[k][0]} baseline={DRUG_A_POS[k][1]} sub="A" color="#e5007e" />
          <Drug x={DRUG_B_POS[k][0]} baseline={DRUG_B_POS[k][1]} sub="B" color="#1ab3e6" />
        </React.Fragment>
      ))}

      <Txt x={25} baseline={268} size={22}>f</Txt>
      <Txt x={25} baseline={434} size={22}>g</Txt>
      <VText cx={56} cy={320} w={170} size={11.8} lh={14} lines={['Therapeutic Combinations', 'Cumulative Distribution']} />
      <VText cx={56} cy={485} w={170} size={11.8} lh={14} lines={['Adverse Interactions', 'Cumulative Distribution']} />

      {METHODS.map((_m, k) => {
        const [pl, , pr] = PLOT_RECTS[1][k];
        const cx = (pl + pr) / 2;
        return (
          <div
            key={'xt' + k}
            style={{
              position: 'absolute',
              left: cx - 80,
              width: 160,
              top: 585 - 0.8465 * 16,
              fontSize: 16,
              lineHeight: '16px',
              fontFamily: FONT,
              color: '#1a1a1a',
              textAlign: 'center',
              whiteSpace: 'nowrap',
            }}
          >
            <i>s</i>
            <span style={{ fontSize: 11, position: 'relative', top: 4, fontStyle: 'italic' }}>AB</span> of drug pairs
          </div>
        );
      })}

      <Txt x={95} baseline={635} size={22}>h</Txt>
      <Txt x={662} baseline={635} size={22}>i</Txt>
      <VText cx={102} cy={735} w={230} size={16.4} lh={18} lines={['AUC (Drug Combinations)']} />
      <VText cx={668} cy={736} w={230} size={16.4} lh={18} lines={['AUC (Adverse DDIs)']} />
    </div>
  );
}
